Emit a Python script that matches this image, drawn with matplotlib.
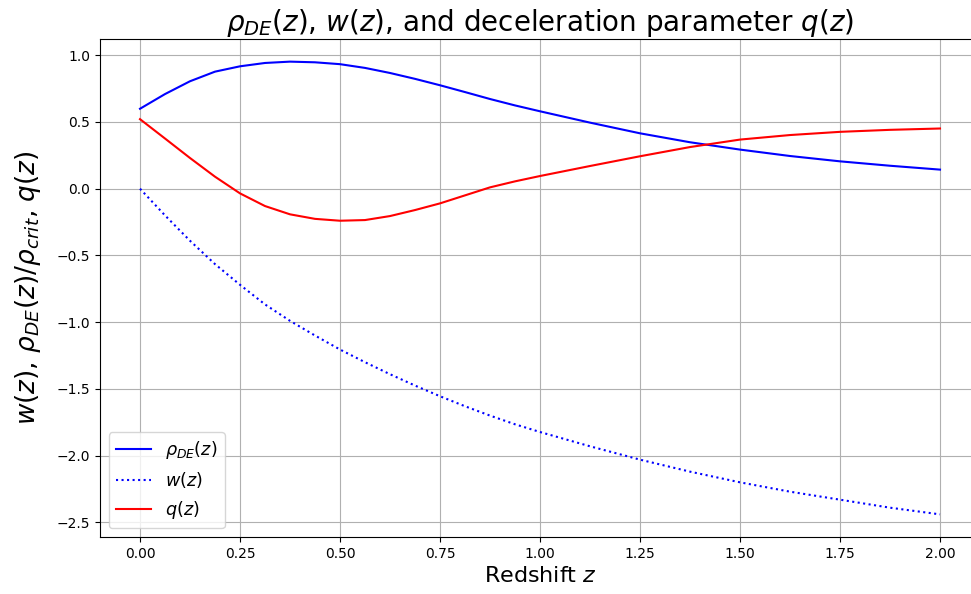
import numpy as np
import matplotlib.pyplot as plt

# values
z = [0.0, 0.0625, 0.125, 0.1875, 0.25, 0.3125, 0.375, 0.4375, 0.5,
     0.5625, 0.625, 0.6875, 0.75, 0.8125, 0.875, 0.9375, 1.0,
     1.125, 1.25, 1.375, 1.5, 1.625, 1.75, 1.875, 2.0]
rho_de = [0.599, 0.709, 0.805, 0.877, 0.917, 0.942, 0.952, 0.947, 0.933,
          0.905, 0.867, 0.823, 0.775, 0.724, 0.672, 0.624, 0.58,
          0.495, 0.415, 0.348, 0.293, 0.245, 0.205, 0.172, 0.143]
w = [0.0, -0.20, -0.39, -0.565, -0.72, -0.867, -0.99, -1.10, -1.205,
     -1.30, -1.39, -1.475, -1.555, -1.63, -1.70, -1.765, -1.823,
     -1.93, -2.03, -2.12, -2.20, -2.27, -2.33, -2.39, -2.44]
q = [0.521, 0.376, 0.230, 0.090, -0.035, -0.130, -0.192, -0.226, -0.240,
     -0.235, -0.205, -0.16, -0.11, -0.05, 0.01, 0.055, 0.095,
     0.17, 0.243, 0.312, 0.368, 0.402, 0.426, 0.441, 0.451]

fig = plt.figure(figsize=(9.71, 5.94), dpi=100)
ax = fig.add_axes([100 / 971, 1 - 537 / 594, 880 / 971, 498 / 594])

ax.plot(z, rho_de, 'b-', label=r'$\rho_{DE}(z)$')
ax.plot(z, w, 'b:', label=r'$w(z)$')
ax.plot(z, q, 'r-', label=r'$q(z)$')

ax.set_xlabel(r'Redshift $z$', fontsize=16)
ax.set_ylabel(r'$w(z)$, $\rho_{DE}(z)/\rho_{crit}$, $q(z)$', fontsize=19, labelpad=10)
ax.set_title(r'$\rho_{DE}(z)$, $w(z)$, and deceleration parameter $q(z)$', fontsize=20)
ax.grid(True)
ax.legend(loc='lower left', fontsize=12.7)

fig.savefig('out.png', dpi=100)
